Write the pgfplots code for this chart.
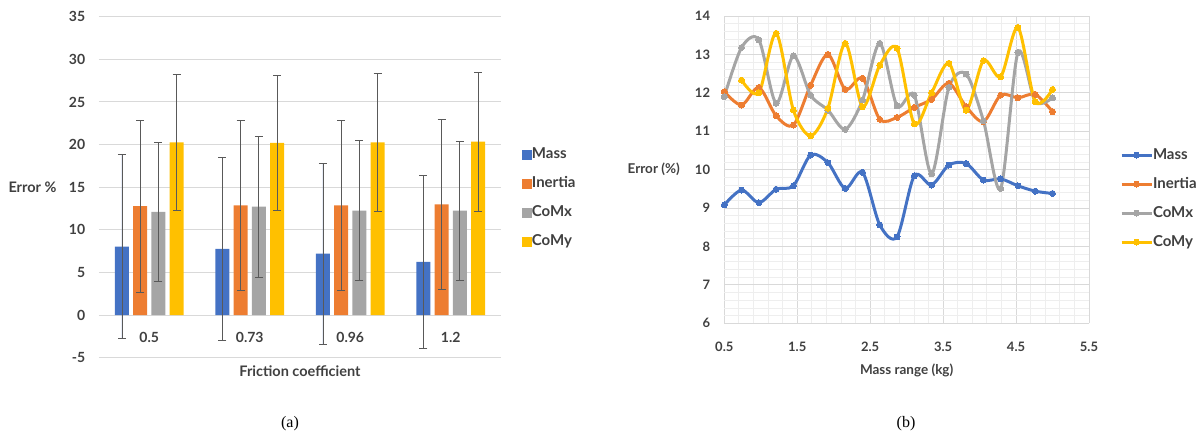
\documentclass[border=0pt]{standalone}
\usepackage{fontspec}
\setmainfont{Lato}
\newfontfamily\capfont{Liberation Serif}
\usepackage{pgfplots}
\pgfplotsset{compat=1.18}
\definecolor{cMass}{HTML}{4472C4}
\definecolor{cInertia}{HTML}{ED7D31}
\definecolor{cCoMx}{HTML}{A5A5A5}
\definecolor{cCoMy}{HTML}{FFC000}
\definecolor{txt}{HTML}{404040}
\definecolor{grd}{HTML}{D9D9D9}
\definecolor{mgrd}{HTML}{EEEEEE}
\definecolor{ebar}{HTML}{595959}
\begin{document}
\begin{tikzpicture}
% ---------------- (a) bar chart ----------------
\begin{axis}[
  at={(99pt,-357.7pt)}, anchor=south west,
  scale only axis, width=402pt, height=341pt,
  ymin=-5, ymax=35, ytick={-5,0,...,35},
  xmin=-0.5, xmax=3.5, xtick={0,1,2,3}, xticklabels={0.5,0.73,0.96,1.2},
  ybar=4.2pt, bar width=14pt,
  axis line style={draw=none},
  major tick length=0pt,
  ymajorgrids, grid style={grd, line width=1pt},
  /pgf/number format/assume math mode=true,
  tick label style={font=\bfseries\fontsize{14}{16}\selectfont, text=txt},
  xticklabel style={anchor=center, yshift=20.7pt},
  yticklabel style={anchor=east, xshift=-10.3pt},
  xlabel={Friction coefficient},
  xlabel style={at={(axis description cs:0.5,-0.039)}, anchor=center, font=\bfseries\fontsize{14.5}{16}\selectfont, text=txt},
  ylabel={Error \%},
  ylabel style={rotate=-90, at={(axis description cs:-0.097,0.5)}, anchor=east, font=\bfseries\fontsize{14.5}{16}\selectfont, text=txt},
  error bars/y dir=both, error bars/y explicit,
  error bars/error mark=-,
  error bars/error bar style={draw=ebar, line width=0.7pt},
  error bars/error mark options={rotate=90, draw=ebar, line width=0.7pt, mark size=4pt},
  legend style={at={(axis description cs:1.052,0.4669)}, anchor=west, draw=none, fill=none,
    inner sep=0pt, outer sep=0pt, row sep=15pt,
    nodes={inner sep=0pt, text height=11pt, text depth=3pt, font=\bfseries\fontsize{15}{17}\selectfont, text=txt}},
  legend cell align=left,
  legend image code/.code={\fill[#1] (0pt,-5pt) rectangle (10pt,5pt);},
]
\addplot[fill=cMass, draw=none] coordinates {(0,8.03) +- (0,10.77) (1,7.77) +- (0,10.73) (2,7.2) +- (0,10.6) (3,6.24) +- (0,10.12)};
\addplot[fill=cInertia, draw=none] coordinates {(0,12.77) +- (0,10.07) (1,12.88) +- (0,10.0) (2,12.88) +- (0,9.95) (3,13.0) +- (0,9.93)};
\addplot[fill=cCoMx, draw=none] coordinates {(0,12.1) +- (0,8.17) (1,12.73) +- (0,8.25) (2,12.26) +- (0,8.2) (3,12.26) +- (0,8.13)};
\addplot[fill=cCoMy, draw=none] coordinates {(0,20.27) +- (0,7.97) (1,20.2) +- (0,7.95) (2,20.27) +- (0,8.1) (3,20.35) +- (0,8.13)};
\legend{Mass,Inertia,CoMx,CoMy}
\end{axis}
% ---------------- (b) line chart ----------------
\begin{axis}[
  at={(724.3pt,-323.3pt)}, anchor=south west,
  scale only axis, width=364.7pt, height=307.3pt,
  xmin=0.5, xmax=5.5, ymin=6, ymax=14,
  xtick={0.5,1.5,2.5,3.5,4.5,5.5}, ytick={6,7,...,14},
  minor x tick num=4, minor y tick num=4,
  grid=both, major grid style={grd, line width=1pt}, minor grid style={mgrd, line width=0.8pt},
  axis line style={draw=none}, major tick length=0pt, minor tick length=0pt,
  /pgf/number format/assume math mode=true,
  tick label style={font=\bfseries\fontsize{13}{15}\selectfont, text=txt},
  xticklabel style={anchor=center, yshift=-23.4pt, /pgf/number format/.cd, fixed, fixed zerofill, precision=1},
  yticklabel style={anchor=east, xshift=-10.7pt},
  xlabel={Mass range (kg)},
  xlabel style={at={(axis description cs:0.5,-0.152)}, anchor=center, font=\bfseries\fontsize{13.5}{15}\selectfont, text=txt},
  ylabel={Error (\%)},
  ylabel style={rotate=-90, at={(axis description cs:-0.1124,0.5)}, anchor=east, font=\bfseries\fontsize{13.5}{15}\selectfont, text=txt},
  legend style={at={(axis description cs:1.085,0.406)}, anchor=west, draw=none, fill=none,
    inner sep=0pt, outer sep=0pt, row sep=15pt,
    nodes={inner sep=0pt, text height=11pt, text depth=3pt, font=\bfseries\fontsize{15}{17}\selectfont, text=txt}},
  legend cell align=left,
  legend image code/.code={\draw[mark repeat=2, mark phase=2, #1] plot coordinates {(0pt,0pt) (15pt,0pt) (30pt,0pt)};},
  every axis plot/.append style={line width=3pt, smooth, tension=0.5, mark=*, mark size=3pt},
]
\addplot[cMass, mark options={fill=cMass, draw=cMass, line width=0pt}] coordinates {
(0.5,9.08) (0.737,9.47) (0.974,9.14) (1.211,9.49) (1.447,9.58) (1.684,10.38) (1.921,10.18) (2.158,9.51) (2.395,9.93) (2.632,8.56)
(2.868,8.25) (3.105,9.84) (3.342,9.60) (3.579,10.12) (3.816,10.16) (4.053,9.73) (4.289,9.76) (4.526,9.58) (4.763,9.44) (5.0,9.38)};
\addplot[cInertia, mark options={fill=cInertia, draw=cInertia, line width=0pt}] coordinates {
(0.5,12.03) (0.737,11.68) (0.974,12.14) (1.211,11.40) (1.447,11.16) (1.684,12.2) (1.921,13.0) (2.158,12.09) (2.395,12.38) (2.632,11.31)
(2.868,11.36) (3.105,11.62) (3.342,11.83) (3.579,12.25) (3.816,11.64) (4.053,11.25) (4.289,11.94) (4.526,11.87) (4.763,11.96) (5.0,11.51)};
\addplot[cCoMx, mark options={fill=cCoMx, draw=cCoMx, line width=0pt}] coordinates {
(0.5,11.9) (0.737,13.18) (0.974,13.38) (1.211,11.73) (1.447,12.96) (1.684,11.94) (1.921,11.55) (2.158,11.05) (2.395,11.81) (2.632,13.29)
(2.868,11.66) (3.105,11.94) (3.342,9.89) (3.579,12.14) (3.816,12.49) (4.053,11.27) (4.289,9.51) (4.526,13.05) (4.763,11.77) (5.0,11.87)};
\addplot[cCoMy, mark options={fill=cCoMy, draw=cCoMy, line width=0pt}] coordinates {
(0.737,12.33) (0.974,12.0) (1.211,13.55) (1.447,11.55) (1.684,10.88) (1.921,11.6) (2.158,13.29) (2.395,11.64) (2.632,12.72)
(2.868,13.16) (3.105,11.19) (3.342,12.0) (3.579,12.77) (3.816,11.55) (4.053,12.84) (4.289,12.42) (4.526,13.7) (4.763,11.77) (5.0,12.09)};
\legend{Mass,Inertia,CoMx,CoMy}
\end{axis}
\node[font=\capfont\fontsize{16}{18}\selectfont] at (290pt,-424pt) {(a)};
\node[font=\capfont\fontsize{16}{18}\selectfont] at (906pt,-424pt) {(b)};
\pgfresetboundingbox
\path[use as bounding box] (0,0) rectangle (1203pt,-439pt);
\end{tikzpicture}
\end{document}
